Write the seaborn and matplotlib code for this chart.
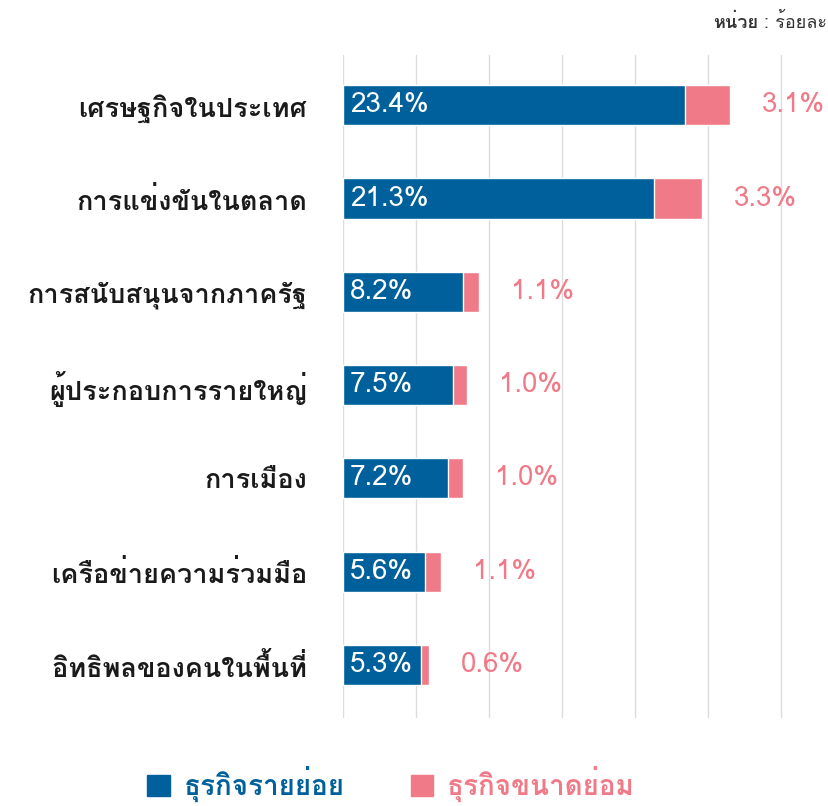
import pandas as pd
import matplotlib.pyplot as plt
import seaborn as sns
from matplotlib import font_manager
from matplotlib.ft2font import FT2Font
from matplotlib.patches import Patch

categories = ["เศรษฐกิจในประเทศ", "การแข่งขันในตลาด", "การสนับสนุนจากภาครัฐ",
              "ผู้ประกอบการรายใหญ่", "การเมือง", "เครือข่ายความร่วมมือ",
              "อิทธิพลของคนในพื้นที่"]
retail = [23.4, 21.3, 8.2, 7.5, 7.2, 5.6, 5.3]
sme = [3.1, 3.3, 1.1, 1.0, 1.0, 1.1, 0.6]
series_names = ["ธุรกิจรายย่อย", "ธุรกิจขนาดย่อม"]

blue = "#00609b"
pink = "#f07a87"

# find an installed font that has Thai glyphs
thai_font = None
for f in font_manager.fontManager.ttflist:
    try:
        if 0x0E01 in FT2Font(f.fname).get_charmap():
            thai_font = f.name
            break
    except Exception:
        pass

sns.set_theme(style="white")
fams = [thai_font, "DejaVu Sans"] if thai_font else ["DejaVu Sans"]
plt.rcParams["font.family"] = fams

df = pd.DataFrame({"cat": categories, "retail": retail, "sme": sme})
df["total"] = df["retail"] + df["sme"]

fig = plt.figure(figsize=(8.29, 8.06), dpi=100)
ax = fig.add_axes([0.414, 0.109, 0.586, 0.823])

sns.barplot(data=df, y="cat", x="total", color=pink, orient="h", width=0.43,
            saturation=1, ax=ax)
sns.barplot(data=df, y="cat", x="retail", color=blue, orient="h", width=0.43,
            saturation=1, ax=ax)

for i, row in df.iterrows():
    ax.text(0.45, i, f"{row['retail']:.1f}%", color="white", fontsize=20,
            va="center", ha="left")
    ax.text(row["total"] + 2.2, i, f"{row['sme']:.1f}%", color=pink, fontsize=20,
            va="center", ha="left")

ax.set_xlim(0, 33.3)
ax.set_ylim(6.57, -0.54)
ax.set_xticks([0, 5, 10, 15, 20, 25, 30])
ax.xaxis.grid(True, color="#dcdcdc", linewidth=1)
ax.set_axisbelow(True)
ax.tick_params(axis="x", labelbottom=False, length=0)
ax.tick_params(axis="y", length=0, pad=26, labelsize=19.5, labelcolor="#1a1a1a")
for lab in ax.get_yticklabels():
    lab.set_fontweight("bold")
ax.set_xlabel("")
ax.set_ylabel("")
for s in ax.spines.values():
    s.set_visible(False)

# unit note, top right
fig.canvas.draw()
r = fig.canvas.get_renderer()
t2 = fig.text(0.997, 0.972, ": ร้อยละ", fontsize=13, color="#333333",
              ha="right", va="center")
x0 = t2.get_window_extent(r).x0
fig.text((x0 - 5) / fig.bbox.width, 0.972, "หน่วย", fontsize=13, fontweight="bold",
         color="#333333", ha="right", va="center")

handles = [Patch(color=blue), Patch(color=pink)]
leg = fig.legend(handles, series_names, loc="center", bbox_to_anchor=(0.472, 0.027),
                 ncol=2, frameon=False, fontsize=20, handlelength=0.8,
                 handleheight=0.8, columnspacing=2.4, handletextpad=0.5)
for t, c in zip(leg.get_texts(), [blue, pink]):
    t.set_color(c)
    t.set_fontweight("bold")

fig.savefig("out.png", dpi=100)
